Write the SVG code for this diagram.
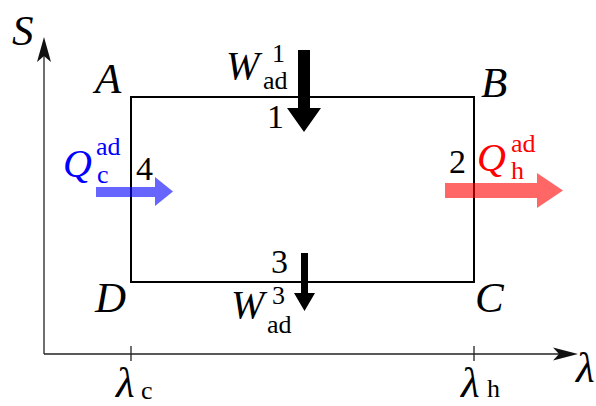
<svg xmlns="http://www.w3.org/2000/svg" width="596" height="406" viewBox="0 0 596 406">
<style>
text{font-family:'Liberation Serif',serif}
.it{font-style:italic;fill:#000}
.up{font-style:normal;fill:#000}
.big{font-size:43px}
.mid{font-size:40px}
.dig{font-size:34px}
.sm{font-size:26px}
.ax{stroke:#222;stroke-width:1.3;fill:none}
</style>
<rect width="596" height="406" fill="#fff"/>
<g id="axes">
<line class="ax" x1="44" y1="354" x2="44" y2="44"/>
<path d="M44,37 L51,62 L44,56 L37,62 Z" fill="#111"/>
<line class="ax" x1="44" y1="354" x2="570" y2="354"/>
<path d="M578,354 L553,347.5 L559,354 L553,360.5 Z" fill="#111"/>
<line class="ax" x1="131" y1="346" x2="131" y2="361"/>
<line class="ax" x1="474" y1="346" x2="474" y2="361"/>
<text class="it big" x="12" y="45">S</text>
<text class="it big" x="576" y="382">λ</text>
<text class="it big" x="116" y="397">λ</text>
<text class="up sm" x="141" y="399">c</text>
<text class="it big" x="461" y="397">λ</text>
<text class="up sm" x="487" y="397">h</text>
</g>
<g id="cycle">
<rect x="131" y="97" width="343" height="185" fill="none" stroke="#000" stroke-width="2"/>
<text class="it big" x="95" y="93">A</text>
<text class="it big" x="481" y="97">B</text>
<text class="it big" x="475" y="312">C</text>
<text class="it big" x="95" y="312">D</text>
</g>
<g id="connectors">
<path id="w1-arrow" d="M298,50 H310 V108 H321 L304,132 L287,108 H298 Z" fill="#000"/>
<path id="w3-arrow" d="M301,253 H308 V293 H315 L304.5,311 L294,293 H301 Z" fill="#000"/>
<path id="qc-arrow" d="M96,187 H155 V177 L173,191.5 L155,206 V197 H96 Z" fill="#0000ff" fill-opacity="0.6"/>
<path id="qh-arrow" d="M445,183 H537 V173 L563,190.5 L537,208 V198 H445 Z" fill="#ff0000" fill-opacity="0.6"/>
</g>
<g id="label-w1">
<text class="it mid" x="226" y="79">W</text>
<text class="up sm" x="272" y="62">1</text>
<text class="up sm" x="263" y="89">ad</text>
<text class="up dig" x="267" y="128">1</text>
</g>
<g id="label-w3">
<text class="up dig" x="271" y="273">3</text>
<text class="it mid" x="231" y="318">W</text>
<text class="up sm" x="272" y="304">3</text>
<text class="up sm" x="267" y="333">ad</text>
</g>
<g id="label-qc">
<text class="it mid" x="63" y="177" style="fill:#0000ff">Q</text>
<text class="up sm" x="96" y="155" style="fill:#0000ff">ad</text>
<text class="up sm" x="97" y="183" style="fill:#0000ff">c</text>
<text class="up dig" x="136" y="180">4</text>
</g>
<g id="label-qh">
<text class="it mid" x="477" y="171" style="fill:#ff0000">Q</text>
<text class="up sm" x="511" y="152" style="fill:#ff0000">ad</text>
<text class="up sm" x="511" y="179" style="fill:#ff0000">h</text>
<text class="up dig" x="449" y="173">2</text>
</g>
</svg>
